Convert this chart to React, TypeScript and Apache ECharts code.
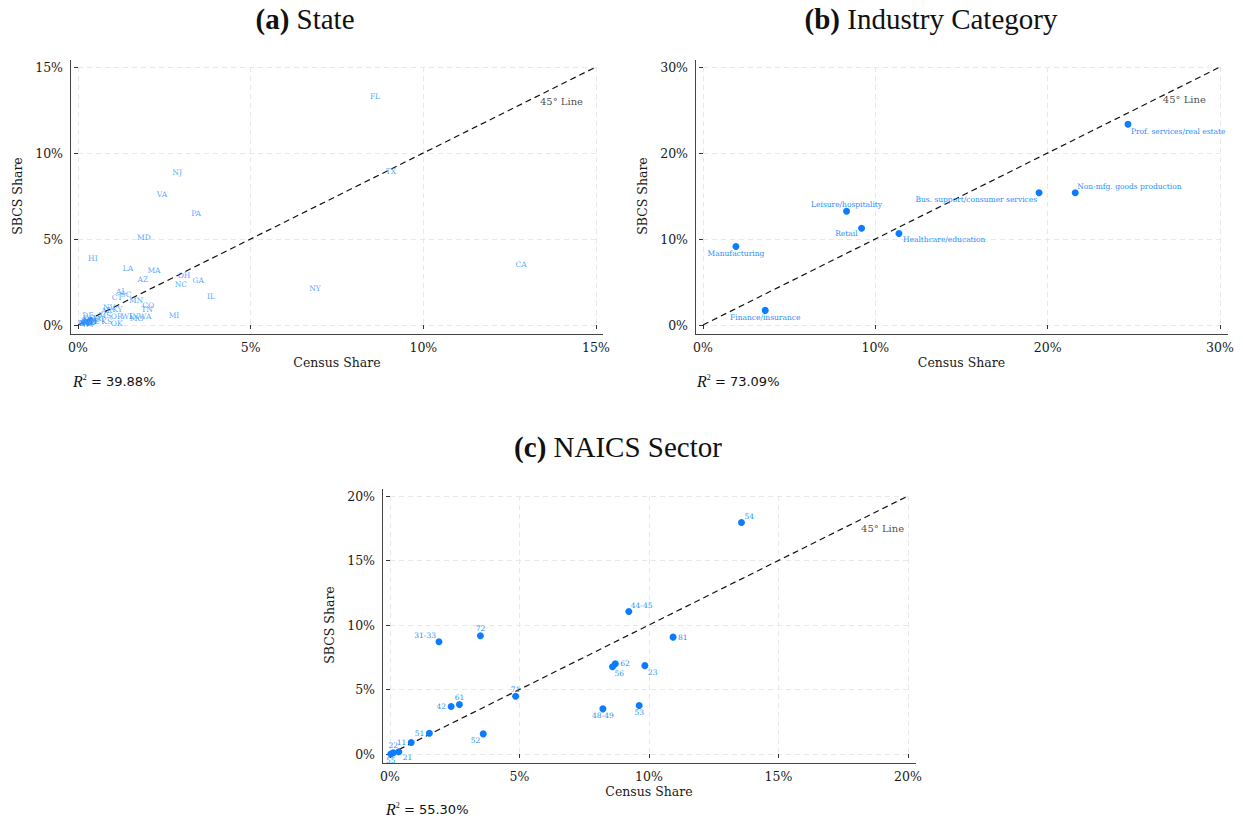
import React, { useEffect, useRef } from "react";
import * as echarts from "echarts";

// ---------- Panel (a): State ----------
const stateCodes = ["FL","NJ","TX","VA","PA","MD","HI","CA","LA","MA","OH","AZ","GA","NC","NY","IL","AL","SC","CT","MN","CO","TN","MI","NV","AR","KY","DE","MS","OR","WI","IN","WA","MO","OK","KS","UT","IA","NE","NM","ID","ME","NH","RI","VT","WV","MT","ND","SD","WY","AK","DC"];
const stateCensusShare = [8.60,2.87,9.06,2.43,3.42,1.91,0.43,12.83,1.45,2.20,3.07,1.88,3.48,2.98,6.86,3.85,1.25,1.39,1.13,1.68,2.03,2.00,2.78,0.90,0.83,1.14,0.29,0.78,1.12,1.41,1.62,1.94,1.70,1.12,0.83,0.62,0.55,0.45,0.35,0.40,0.30,0.35,0.25,0.20,0.30,0.28,0.22,0.24,0.18,0.20,0.32];
const stateSbcsShare = [13.26,8.84,8.95,7.56,6.51,5.06,3.84,3.49,3.26,3.14,2.85,2.67,2.56,2.33,2.15,1.63,1.92,1.80,1.57,1.40,1.16,0.93,0.58,1.03,0.83,0.89,0.58,0.58,0.48,0.52,0.52,0.52,0.37,0.10,0.23,0.30,0.38,0.22,0.28,0.15,0.12,0.20,0.22,0.10,0.05,0.18,0.08,0.14,0.06,0.15,0.35];

// ---------- Panel (b): Industry Category ----------
const industryNames = ["Manufacturing","Finance/insurance","Leisure/hospitality","Retail","Healthcare/education","Bus. support/consumer services","Non-mfg. goods production","Prof. services/real estate"];
const industryCensusShare = [1.91,3.61,8.33,9.20,11.37,19.50,21.60,24.66];
const industrySbcsShare = [9.12,1.70,13.22,11.25,10.63,15.38,15.38,23.35];

// ---------- Panel (c): NAICS Sector ----------
const naicsCodes = ["54","44-45","72","31-33","81","62","56","23","71","61","42","48-49","53","51","52","11","21","22","55"];
const naicsCensusShare = [13.57,9.22,3.49,1.89,10.93,8.70,8.59,9.84,4.85,2.68,2.36,8.22,9.62,1.52,3.60,0.82,0.34,0.13,0.03];
const naicsSbcsShare = [17.94,11.04,9.16,8.70,9.06,7.00,6.77,6.85,4.48,3.83,3.68,3.50,3.76,1.61,1.56,0.89,0.18,0.10,0.00];

// ---------- Axes / annotations ----------
const stateAxisMax = 15;
const stateTickStep = 5;
const industryAxisMax = 30;
const industryTickStep = 10;
const naicsAxisMax = 20;
const naicsTickStep = 5;
const rSquaredValues = ["39.88", "73.09", "55.30"];
const panelTitles = [["(a)", "State"], ["(b)", "Industry Category"], ["(c)", "NAICS Sector"]];
const lineNoteText = "45° Line";
const lineNoteAnchors = [[14.0, 12.97], [27.93, 26.2], [19.02, 17.5]];

// label placement styles: [align, dx, dy]
const industryLabelStyle: Record<string, [string, number, number]> = {
  "Manufacturing": ["center", 0, 7],
  "Finance/insurance": ["center", 0, 7],
  "Leisure/hospitality": ["center", 0, -7],
  "Retail": ["right", -4, 5],
  "Healthcare/education": ["left", 4, 6],
  "Bus. support/consumer services": ["right", -2, 7],
  "Non-mfg. goods production": ["left", 2, -6],
  "Prof. services/real estate": ["left", 3, 7],
};
const naicsLabelStyle: Record<string, [string, number, number]> = {
  "54": ["left", 3, -6], "44-45": ["left", 2, -6], "72": ["center", 0, -7], "31-33": ["right", -3, -6],
  "81": ["left", 5, 0], "62": ["left", 5, 0], "56": ["left", 2, 7], "23": ["left", 3, 7],
  "71": ["center", 0, -7], "61": ["center", 0, -7], "42": ["right", -5, 0], "48-49": ["center", 0, 7],
  "53": ["center", 0, 7], "51": ["right", -5, 0], "52": ["right", -3, 7], "11": ["right", -5, 0],
  "21": ["left", 4, 6], "22": ["center", 0, -7], "55": ["center", 0, 6],
};

const SERIF = "DejaVu Serif";
const TITLE_FONT = "Liberation Serif";
const POINT_COLOR = "#0a7cff";
const LABEL_COLOR = "#2b90ff";

const grids = [
  { left: 78, top: 67, width: 518, height: 258 },
  { left: 703, top: 67, width: 517, height: 258 },
  { left: 390, top: 496, width: 518, height: 258 },
];

function xAxisFor(gridIndex: number, max: number, interval: number) {
  return {
    type: "value", gridIndex, min: 0, max, interval, offset: 9,
    name: "Census Share", nameLocation: "middle", nameGap: 22,
    nameTextStyle: { fontFamily: SERIF, fontSize: 12.5, color: "#1a1a1a" },
    axisLine: { show: false },
    axisTick: { show: true, length: 4, lineStyle: { color: "#333" } },
    axisLabel: { formatter: (v: number) => v + "%", fontFamily: SERIF, fontSize: 12.5, color: "#1a1a1a", margin: 7 },
    splitLine: { show: true, lineStyle: { color: "#e8e8e8", type: [5, 4], width: 1 } },
  };
}
function yAxisFor(gridIndex: number, max: number, interval: number) {
  return {
    type: "value", gridIndex, min: 0, max, interval, offset: 8,
    name: "SBCS Share", nameLocation: "middle", nameGap: 46,
    nameTextStyle: { fontFamily: SERIF, fontSize: 12.5, color: "#1a1a1a" },
    axisLine: { show: false },
    axisTick: { show: true, length: 4, lineStyle: { color: "#333" } },
    axisLabel: { formatter: (v: number) => v + "%", fontFamily: SERIF, fontSize: 12.5, color: "#1a1a1a", margin: 7 },
    splitLine: { show: true, lineStyle: { color: "#e8e8e8", type: [5, 4], width: 1 } },
  };
}

function diagSeries(idx: number, max: number) {
  return {
    type: "line", xAxisIndex: idx, yAxisIndex: idx, data: [[0, 0], [max, max]],
    symbol: "none", silent: true, z: 2,
    lineStyle: { color: "#111", width: 1.2, type: [6, 4] },
  };
}
function noteSeries(idx: number) {
  return {
    type: "scatter", xAxisIndex: idx, yAxisIndex: idx, data: [lineNoteAnchors[idx]],
    symbolSize: 1, itemStyle: { color: "rgba(0,0,0,0)" }, silent: true, z: 3,
    label: { show: true, position: "inside", formatter: lineNoteText, fontFamily: SERIF, fontSize: 10, color: "#1a1a1a" },
  };
}

function labeledPoints(names: string[], xs: number[], ys: number[], styles: Record<string, [string, number, number]>) {
  return names.map((n, i) => {
    const st = styles[n];
    return {
      name: n,
      value: [xs[i], ys[i]],
      label: { align: st[0], offset: [st[1], st[2]] },
    };
  });
}

function measure(text: string, font: string): number {
  const c = document.createElement("canvas").getContext("2d");
  if (!c) return text.length * 12;
  c.font = font;
  return c.measureText(text).width;
}

export default function App() {
  const ref = useRef<HTMLDivElement>(null);
  useEffect(() => {
    if (!ref.current) return;
    const chart = echarts.init(ref.current, null, { renderer: "svg" });

    const pointLabel = {
      show: true, position: "inside", formatter: "{b}", fontFamily: SERIF, fontSize: 7.5, color: LABEL_COLOR,
    };

    const titleCenters = [[305, 19], [931, 19], [618, 447]];
    const rsqPos = [[73, 381], [697, 381], [386, 809]];
    const spines = [
      { x: 70, top: 60, bottom: 334, right: 603 },
      { x: 695, top: 60, bottom: 334, right: 1228 },
      { x: 382, top: 489, bottom: 763, right: 916 },
    ];

    const TITLE_SIZE = 29;
    const graphic: any[] = [];
    panelTitles.forEach((t, i) => {
      const wBold = measure(t[0], `bold ${TITLE_SIZE}px "${TITLE_FONT}"`);
      const wPlain = measure(" " + t[1], `${TITLE_SIZE}px "${TITLE_FONT}"`);
      const x0 = titleCenters[i][0] - (wBold + wPlain) / 2;
      graphic.push({
        type: "text", x: x0, y: titleCenters[i][1],
        style: {
          text: t[0], fontFamily: TITLE_FONT, fontSize: TITLE_SIZE, fontWeight: "bold", fill: "#111",
          textAlign: "left", textVerticalAlign: "middle",
        },
      });
      graphic.push({
        type: "text", x: x0 + wBold, y: titleCenters[i][1],
        style: {
          text: " " + t[1], fontFamily: TITLE_FONT, fontSize: TITLE_SIZE, fontWeight: "normal", fill: "#111",
          textAlign: "left", textVerticalAlign: "middle",
        },
      });
    });
    rSquaredValues.forEach((r, i) => {
      graphic.push({
        type: "text", x: rsqPos[i][0], y: rsqPos[i][1],
        style: {
          text: `{r|R}{s|2}{t| = ${r}%}`,
          textAlign: "left", textVerticalAlign: "middle",
          rich: {
            r: { fontFamily: TITLE_FONT, fontStyle: "italic", fontSize: 16, fill: "#111" },
            s: { fontFamily: TITLE_FONT, fontSize: 8, fill: "#111", padding: [0, 0, 8, 0] },
            t: { fontFamily: "DejaVu Sans", fontSize: 13, fill: "#111" },
          },
        },
      });
    });
    spines.forEach((s) => {
      graphic.push({ type: "line", shape: { x1: s.x + 0.5, y1: s.top, x2: s.x + 0.5, y2: s.bottom + 0.5 }, style: { stroke: "#444", lineWidth: 1 } });
      graphic.push({ type: "line", shape: { x1: s.x, y1: s.bottom + 0.5, x2: s.right, y2: s.bottom + 0.5 }, style: { stroke: "#444", lineWidth: 1 } });
    });

    const option: any = {
      animation: false,
      backgroundColor: "#ffffff",
      grid: grids,
      xAxis: [
        xAxisFor(0, stateAxisMax, stateTickStep),
        xAxisFor(1, industryAxisMax, industryTickStep),
        xAxisFor(2, naicsAxisMax, naicsTickStep),
      ],
      yAxis: [
        yAxisFor(0, stateAxisMax, stateTickStep),
        yAxisFor(1, industryAxisMax, industryTickStep),
        yAxisFor(2, naicsAxisMax, naicsTickStep),
      ],
      graphic,
      series: [
        diagSeries(0, stateAxisMax),
        diagSeries(1, industryAxisMax),
        diagSeries(2, naicsAxisMax),
        noteSeries(0),
        noteSeries(1),
        noteSeries(2),
        {
          type: "scatter", xAxisIndex: 0, yAxisIndex: 0, z: 4,
          symbolSize: 1, itemStyle: { color: "rgba(0,0,0,0)" },
          data: stateCodes.map((c, i) => ({ name: c, value: [stateCensusShare[i], stateSbcsShare[i]] })),
          label: pointLabel,
        },
        {
          type: "scatter", xAxisIndex: 1, yAxisIndex: 1, z: 4,
          symbolSize: 7, itemStyle: { color: POINT_COLOR, opacity: 1 },
          data: labeledPoints(industryNames, industryCensusShare, industrySbcsShare, industryLabelStyle),
          label: pointLabel,
        },
        {
          type: "scatter", xAxisIndex: 2, yAxisIndex: 2, z: 4,
          symbolSize: 7, itemStyle: { color: POINT_COLOR, opacity: 1 },
          data: labeledPoints(naicsCodes, naicsCensusShare, naicsSbcsShare, naicsLabelStyle),
          label: pointLabel,
        },
      ],
    };
    chart.setOption(option);
    return () => chart.dispose();
  }, []);

  return <div ref={ref} style={{ position: "absolute", left: 0, top: 0, width: 1243, height: 821, background: "#fff" }} />;
}
